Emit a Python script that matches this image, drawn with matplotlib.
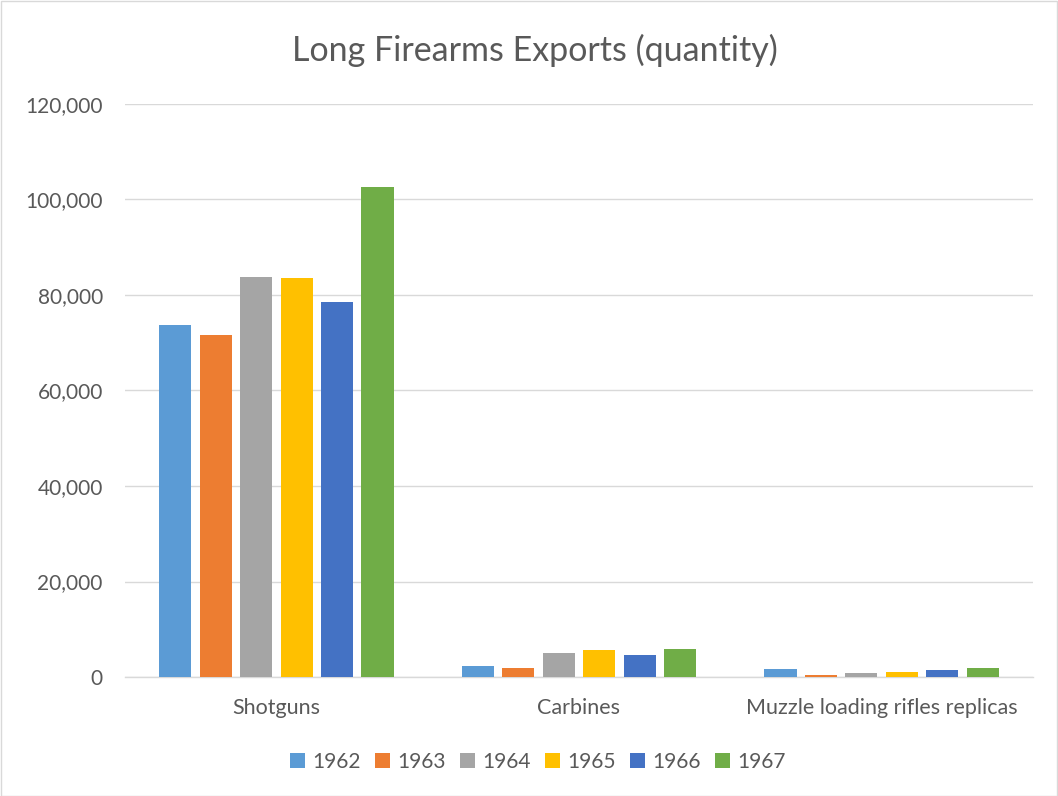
import matplotlib
matplotlib.use("Agg")
import matplotlib.pyplot as plt
import numpy as np
from matplotlib.patches import Rectangle

categories = ["Shotguns", "Carbines", "Muzzle loading rifles replicas"]
years = ["1962", "1963", "1964", "1965", "1966", "1967"]
values = {
    "1962": [73800, 2400, 1750],
    "1963": [71650, 1950, 500],
    "1964": [83800, 5000, 800],
    "1965": [83500, 5700, 1050],
    "1966": [78550, 4650, 1550],
    "1967": [102600, 5950, 1850],
}
colors = ["#5B9BD5", "#ED7D31", "#A5A5A5", "#FFC000", "#4472C4", "#70AD47"]
yticks = [0, 20000, 40000, 60000, 80000, 100000, 120000]

plt.rcParams['font.family'] = ['Lato', 'DejaVu Sans']
W, H = 1058, 796
fig = plt.figure(figsize=(W/100, H/100), dpi=100)
fig.patches.append(Rectangle((0.5/W, 0.5/H), 1-1.5/W, 1-1.5/H, transform=fig.transFigure,
                             fill=False, edgecolor="#D9D9D9", linewidth=1))
ax = fig.add_axes([125/W, 1-677/H, (1033-125)/W, (677-104)/H])

x = np.arange(len(categories))
step = 0.1337
bw = 0.106
for i, (yr, c) in enumerate(zip(years, colors)):
    ax.bar(x + (i - 2.5) * step, values[yr], width=bw, color=c, label=yr, zorder=3)

ax.set_xlim(-0.5, 2.5)
ax.set_ylim(0, 120000)
ax.set_yticks(yticks)
ax.set_yticklabels([f"{v:,}" for v in yticks])
ax.set_xticks(x)
ax.set_xticklabels(categories)
ax.grid(axis='y', color="#D9D9D9", linewidth=1, zorder=0)
for s in ["top", "right", "left"]:
    ax.spines[s].set_visible(False)
ax.spines["bottom"].set_color("#D9D9D9")
ax.spines["bottom"].set_linewidth(1)
ax.tick_params(axis='y', length=0, labelsize=15, labelcolor="#595959", pad=16)
ax.tick_params(axis='x', length=0, labelsize=15.5, labelcolor="#595959", pad=15)

fig.text(535/W, 1-50/H, "Long Firearms Exports (quantity)", ha='center', va='center',
         fontsize=24.5, color="#595959")
fig.legend(loc='center', bbox_to_anchor=(538/W, 1-762/H), ncol=6, frameon=False,
           fontsize=15, labelcolor="#595959", handlelength=0.7, handleheight=0.7,
           handletextpad=0.35, columnspacing=0.7)
fig.savefig("out.png", dpi=100)
